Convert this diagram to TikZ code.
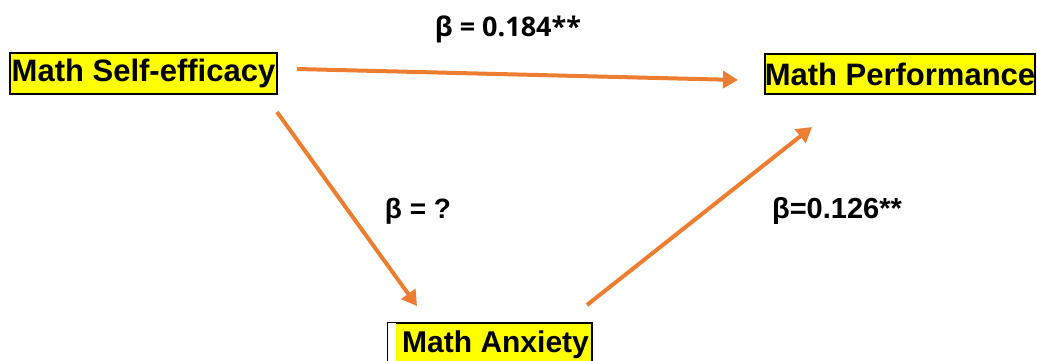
\documentclass[tikz,border=0pt]{standalone}
\usepackage{fontspec}
\setmainfont{Liberation Sans}
\newfontfamily\topfont{Open Sans}
\usetikzlibrary{arrows.meta}
\definecolor{arrorange}{HTML}{ED7D31}
\definecolor{hiyellow}{HTML}{FFFF00}
\tikzset{
  varbox/.style={draw=black, line width=2pt, fill=hiyellow, inner sep=0pt, font=\fontsize{31}{31}\selectfont\bfseries, text=black},
  path arrow/.style={draw=arrorange, line width=4pt, -{Triangle[length=15pt,width=17pt]}},
  betalabel/.style={font=\fontsize{29}{29}\selectfont\bfseries, text=black, inner sep=0pt},
}
\begin{document}
\begin{tikzpicture}[x=1pt,y=-1pt]
\useasboundingbox (0,0) rectangle (1037,360);
\begin{scope}
\clip (0,0) rectangle (1037,360);
\node[varbox, minimum width=204pt, minimum height=46pt] (ma) at (490,346) {};
\fill[white] ([xshift=1pt,yshift=-1pt]ma.north west) rectangle ([xshift=9pt,yshift=1pt]ma.south west);
\node[inner sep=0pt, anchor=base west, font=\fontsize{30}{30}\selectfont\bfseries, text=black] (matext) at (402,352) {Math Anxiety};
\end{scope}
\node[varbox, minimum width=267pt, minimum height=41pt] (mse) at (143.5,73.5) {Math Self-efficacy};
\node[varbox, minimum width=270pt, minimum height=40pt] (mp) at (900,74) {Math Performance};
\node[betalabel, font=\fontsize{27}{27}\selectfont\bfseries\topfont] (b1) at (508,29) {β = 0.184**};
\node[betalabel, font=\fontsize{28}{28}\selectfont\bfseries] (b2) at (418,211) {β = ?};
\node[betalabel] (b3) at (837,211) {β=0.126**};
\coordinate (a1s) at (297,69);
\coordinate (a1e) at (738,80);
\coordinate (a2s) at (277,112);
\coordinate (a2e) at (417,306);
\coordinate (a3s) at (587,305);
\coordinate (a3e) at (812,127);
\draw[path arrow] (a1s) -- (a1e);
\draw[path arrow] (a2s) -- (a2e);
\draw[path arrow] (a3s) -- (a3e);
\end{tikzpicture}
\end{document}
